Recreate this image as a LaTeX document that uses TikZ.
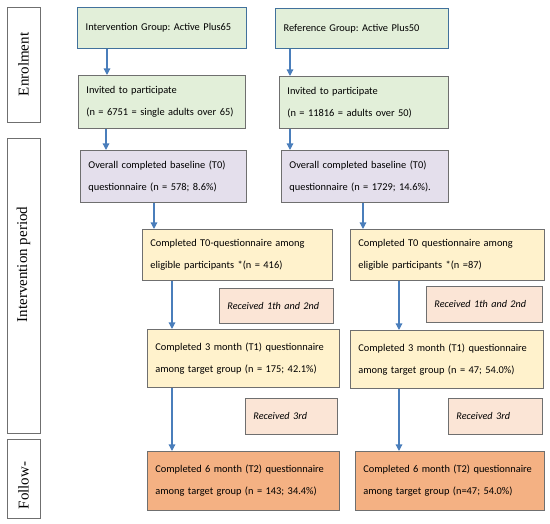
\documentclass[tikz,border=0pt]{standalone}
\usepackage{fontspec}
\setmainfont{Carlito}
\newfontfamily\stagefont{Liberation Serif}
\usetikzlibrary{arrows.meta}
\frenchspacing

\definecolor{boxgreen}{HTML}{E2EFD9}
\definecolor{boxpurple}{HTML}{E4DFEC}
\definecolor{boxyellow}{HTML}{FFF2CC}
\definecolor{boxpeach}{HTML}{FBE5D6}
\definecolor{boxorange}{HTML}{F4B183}
\definecolor{edgeblue}{HTML}{41719C}
\definecolor{arrowblue}{HTML}{4A7EBB}
\definecolor{edgegray}{HTML}{6F6F6F}

\begin{document}
\begin{tikzpicture}[x=1pt,y=-1pt,
  stage/.style={draw=edgegray,fill=white,rotate=90,minimum height=33pt,inner sep=0pt,font=\stagefont\fontsize{15}{17}\selectfont},
  box/.style={draw=edgegray,line width=0.8pt,anchor=north west,align=left,inner xsep=8pt,inner ysep=0pt,font=\fontsize{10.4}{22}\selectfont},
  topbox/.style={box,draw=edgeblue,line width=1.3pt,fill=boxgreen},
  recbox/.style={box,fill=boxpeach,font=\fontsize{10.2}{12}\selectfont\itshape},
  arr/.style={arrowblue,line width=1.2pt,-{Triangle[width=6.5pt,length=6.5pt]}}]
  \useasboundingbox (0,0) rectangle (550,524);

  % stages on the left
  \node[stage,minimum width=115pt] (enrol) at (23.5,64.5) {Enrolment};
  \node[stage,minimum width=295pt] (ivp) at (23.5,285.5) {\hspace*{42pt}Intervention period};
  \node[stage,minimum width=79pt] (follow) at (23.5,478.5) {Follow-\hspace*{14pt}};

  % enrolment
  \node[topbox,minimum width=169pt,minimum height=41pt,text width=153pt] (int) at (77,7) {Intervention Group: Active Plus65};
  \node[topbox,minimum width=173pt,minimum height=40pt,text width=157pt] (ref) at (275,8) {Reference Group: Active Plus50};
  \node[box,fill=boxgreen,minimum width=167pt,minimum height=53pt,text width=151pt] (inv1) at (78,75) {Invited to participate\\(n = 6751 = single adults over 65)};
  \node[box,fill=boxgreen,minimum width=169pt,minimum height=52pt,text width=153pt] (inv2) at (279,76) {Invited to participate\\(n = 11816 = adults over 50)};

  % baseline
  \node[box,fill=boxpurple,minimum width=166pt,minimum height=52pt,text width=150pt] (base1) at (80,150) {Overall completed baseline (T0)\\questionnaire (n = 578; 8.6\%)};
  \node[box,fill=boxpurple,minimum width=167pt,minimum height=52pt,text width=151pt] (base2) at (281,150) {Overall completed baseline (T0)\\questionnaire (n = 1729; 14.6\%).};

  % intervention period
  \node[box,fill=boxyellow,minimum width=190pt,minimum height=51pt,text width=174pt] (t0a) at (142,229) {Completed T0-questionnaire among\\eligible participants *(n = 416)};
  \node[box,fill=boxyellow,minimum width=194pt,minimum height=51pt,text width=178pt] (t0b) at (350,229) {Completed T0 questionnaire among\\eligible participants *(n =87)};
  \node[recbox,minimum width=114pt,minimum height=35pt,text width=98pt] (rec1a) at (219,288) {Received 1th and 2nd};
  \node[recbox,minimum width=116pt,minimum height=36pt,text width=100pt] (rec1b) at (426,286) {Received 1th and 2nd};
  \node[box,fill=boxyellow,minimum width=192pt,minimum height=58pt,text width=176pt] (t1a) at (147,329) {Completed 3 month (T1) questionnaire\\among target group (n = 175; 42.1\%)};
  \node[box,fill=boxyellow,minimum width=193pt,minimum height=58pt,text width=177pt] (t1b) at (350,330) {Completed 3 month (T1) questionnaire\\among target group (n = 47; 54.0\%)};
  \node[recbox,minimum width=92pt,minimum height=36pt,text width=76pt] (rec3a) at (245,398) {Received 3rd};
  \node[recbox,minimum width=94pt,minimum height=36pt,text width=78pt] (rec3b) at (448,398) {Received 3rd};

  % follow-up
  \node[box,fill=boxorange,minimum width=192pt,minimum height=59pt,text width=176pt] (t2a) at (147,451) {Completed 6 month (T2) questionnaire\\among target group (n = 143; 34.4\%)};
  \node[box,fill=boxorange,minimum width=189pt,minimum height=59pt,text width=173pt] (t2b) at (355,451) {Completed 6 month (T2) questionnaire\\among target group (n=47; 54.0\%)};

  % arrows
  \draw[arr] ([xshift=30pt]int.south west) coordinate (a1) -- (a1 |- inv1.north);
  \draw[arr] ([xshift=15pt]ref.south west) coordinate (a2) -- (a2 |- inv2.north);
  \draw[arr] ([xshift=28pt]inv1.south west) coordinate (a3) -- (a3 |- base1.north);
  \draw[arr] ([xshift=11pt]inv2.south west) coordinate (a4) -- (a4 |- base2.north);
  \draw[arr] ([xshift=74pt]base1.south west) coordinate (a5) -- (a5 |- t0a.north);
  \draw[arr] ([xshift=82pt]base2.south west) coordinate (a6) -- (a6 |- t0b.north);
  \draw[arr] ([xshift=30pt]t0a.south west) coordinate (a7) -- (a7 |- t1a.north);
  \draw[arr] ([xshift=49pt]t0b.south west) coordinate (a8) -- (a8 |- t1b.north);
  \draw[arr] ([xshift=25pt]t1a.south west) coordinate (a9) -- (a9 |- t2a.north);
  \draw[arr] ([xshift=49pt]t1b.south west) coordinate (a10) -- (a10 |- t2b.north);
\end{tikzpicture}
\end{document}
